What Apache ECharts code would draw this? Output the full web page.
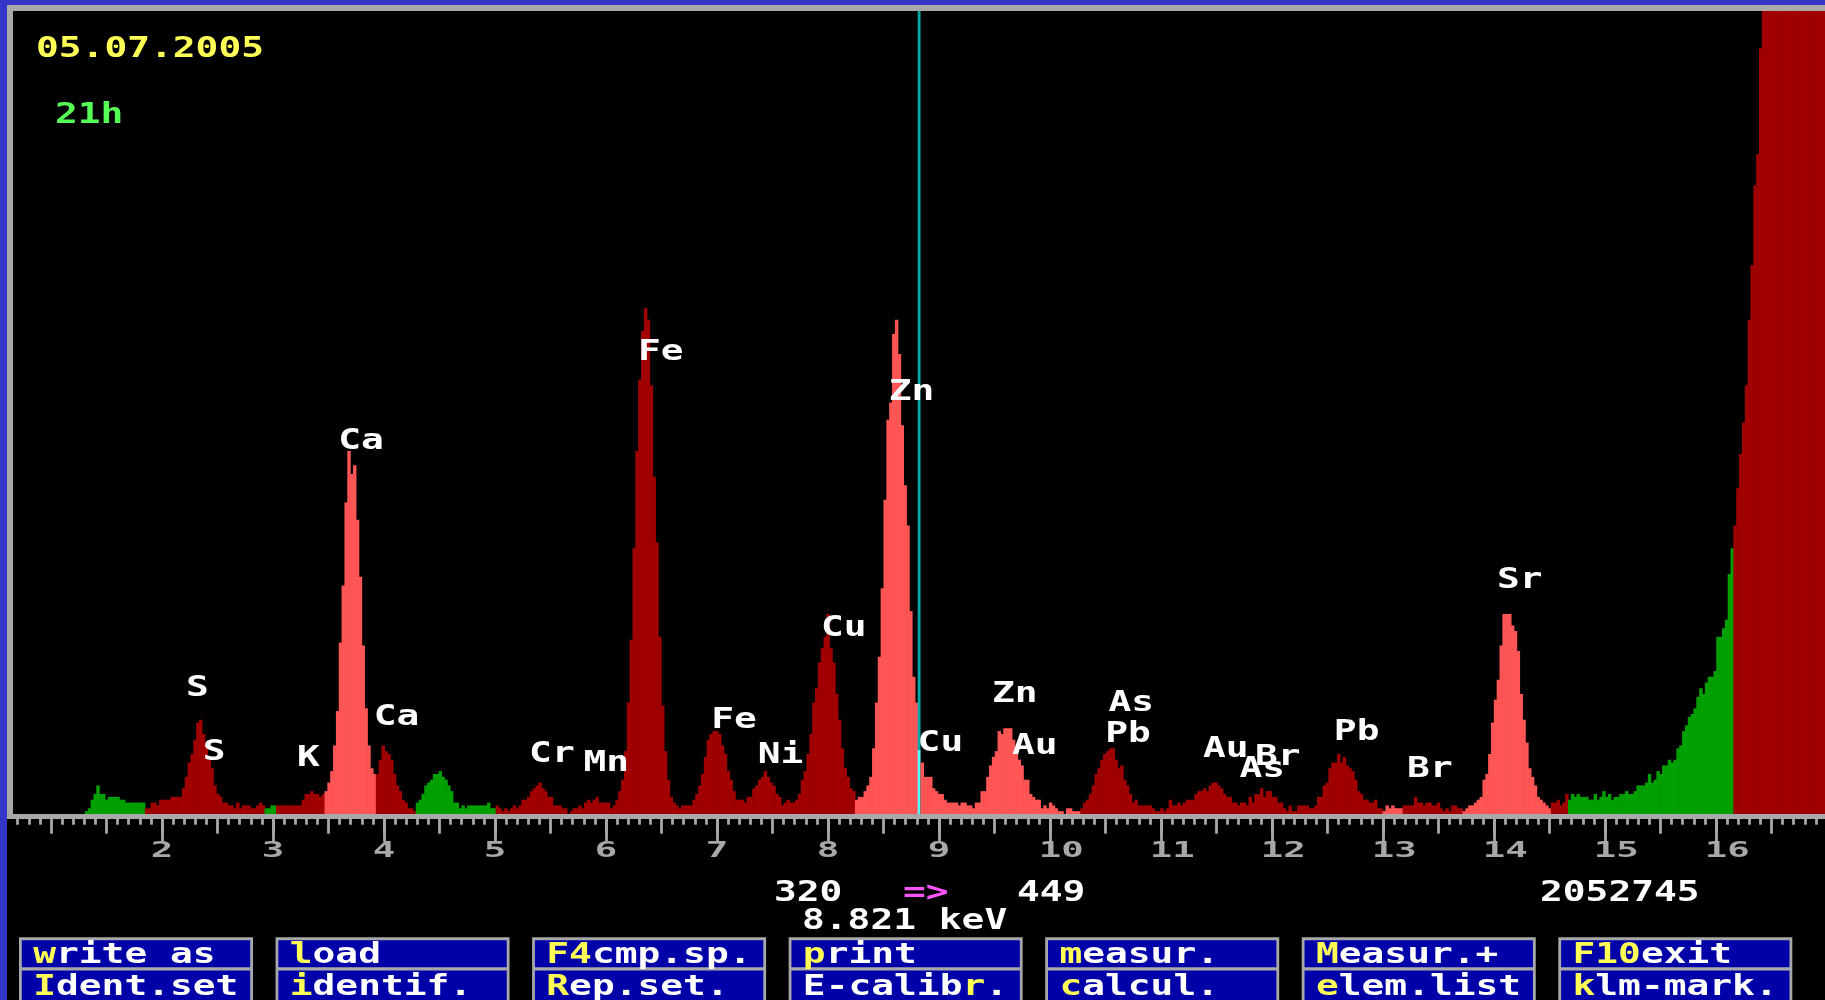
<!DOCTYPE html>
<html>
<head>
<meta charset="utf-8">
<title>XRF spectrum 05.07.2005</title>
<script src="https://cdn.jsdelivr.net/npm/echarts@6.0.0/dist/echarts.min.js"></script>
<style>
  html, body { margin: 0; padding: 0; background: #000; overflow: hidden; }
  #chart { width: 1825px; height: 1000px; }
</style>
</head>
<body>
<div id="chart"></div>
<script>
// Energy calibration: keV at the centre of a channel = CAL_OFFSET + CAL_GAIN * channel
const CAL_OFFSET = 0.5989;
const CAL_GAIN = 0.025694;

// Counts per channel, first value belongs to channel 3
const FIRST_CHANNEL = 3;
// ch 3 - 111 : low-energy background, S and K
const countsLow = [
  0,0,0,0,0,0,0,0,0,0, 0,0,0,0,0,0,0,0,0,0, 0,0,0,0,0,
  20,40,100,140,200,140,140,100,120,120,120,120,100,100,80,80,80,80,80,80,80,
  40,40,80,80,60,100,100,100,100,120, 120,120,120,180,260,360,420,520,640,660,
  560,480,380,320,200,140,120,80,80,60, 60,40,80,40,60,60,60,40,40,60, 80,60,
  40,40,60,60,
  60,60,60,60,60,60,60,60,60,100,140,140,160,140,140,120,140
];
// ch 112 - 171 : Ca K-alpha / K-beta
const countsCa = [
  160,220,300,480,720,1200,1600,2180,2540,2380,2440,2060,1660,1180,740,480,320,280,
  280,380,480,440,420,380,280,200,160,100,80,40,40,20,
  80,100,140,200,220,240,280,280,300,260,240,200,160,80,80,40,60,40,60,60,60,60,60,60,60,80,40,40
];
// ch 172 - 297 : Cr, Mn, Fe, Ni, Cu
const countsFe = [
  60,40,20,40,20,40,60,40,60,100,100,120,160,180,200,220,180,160,120,120,60,60,60,40,40,0,
  20,40,40,60,40,80,100,80,100,120,80,80,80,80,40,60,100,160,240,
  440,780,1220,1860,2540,3040,3380,3540,3460,3000,2360,1900,1240,760,440,240,120,80,60,40,
  60,60,60,60,100,140,200,280,400,520,560,580,580,560,480,420,300,240,160,100,100,100,80,
  120,120,180,200,240,260,300,260,220,200,140,120,60,80,100,80,80,100,140,
  240,300,420,560,780,880,1060,1160,1240,1400,1160,1060,840,660,460,320,260,180,160
];
// ch 298 - 376 : Zn K-alpha, Cu K-beta, Zn K-beta, Au L-alpha
const countsZn = [
  100,120,120,160,200,260,460,780,1100,1580,2200,2760,2880,3360,3460,3220,2720,2300,2020,1420,960,780,
  449,
  360,260,260,260,180,160,140,140,100,80,80,80,80,60,
  80,80,60,60,40,80,80,160,160,260,340,400,440,580,560,600,600,600,520,460,
  380,340,240,240,140,120,100,100,40,60,40,80,60,40,20,20,0,40,40,20,20,20
];
// ch 377 - 510 : As / Pb L-alpha, Au L-beta, As K-beta, Br, Pb L-beta
const countsAsPb = [
  40,80,100,140,200,280,320,380,420,440,460,460,380,320,340,240,200,140,80,100,60,60,60,60,60,40,20,20,40,20,40,
  100,60,60,80,60,80,100,100,100,140,160,160,180,160,200,220,220,200,180,140,
  120,120,80,80,60,80,80,60,120,80,140,140,180,120,160,160,120,120,80,80,
  40,20,60,20,20,60,60,60,60,40,40,60,120,120,200,220,320,360,360,420,360,400,340,320,300,240,160,140,100,100,80,80,100,40,40,
  20,60,40,60,40,40,40,
  60,60,60,60,120,80,80,60,80,80,60,60,80,40,20,40,20,60,60,40,40
];
// ch 511 - 637 : Sr K-alpha, scatter background and the off-scale scatter peak
const countsSr = [
  20,40,60,60,80,100,120,240,280,420,640,800,940,1180,1400,1400,1400,1320,1280,1140,840,660,500,320,260,200,120,100,80,60,40,
  80,80,100,60,80,140,
  100,140,120,140,120,120,120,100,100,140, 100,120,160,120,140,100,120,120,140,140,
  160,140,140,160,200,200,200,220,280,220, 240,300,280,340,340,380,360,380,460,480,
  580,620,680,700,740,820,880,840,920,960, 960,1000,1240,1240,1300,1360,1680,1860,
  2020,2280,2520,2740,3000,3460,3840,4400,4620,5360,
  5900,6300,6900,7400,8100,8700,9400,10200,11000,11800,12700,13600,14500,15500,16500,17600,18700,19800,21000,22200,23500,24800
];

// Regions of interest, as channel ranges
const identifiedRois = [[112, 129], [298, 376], [483, 489], [511, 541]];
const unassignedRois = [[28, 48], [91, 94], [144, 171], [548, 605]];

// Element markers: name, keV of the first letter, height (counts) of the letter tops
const markerNames = ['S','S','K','Ca','Ca','Cr','Mn','Fe','Fe','Ni','Cu','Zn','Cu','Zn','Au','As','Pb','Au','As','Br','Pb','Br','Sr'];
const markerKeV = [2.32,2.47,3.32,3.69,4.01,5.41,5.90,6.39,7.05,7.47,8.04,8.65,8.91,9.58,9.76,10.63,10.60,11.48,11.81,11.95,12.66,13.32,14.13];
const markerHeight = [952,504,462,2681,749,490,427,3304,728,483,1372,3024,567,910,546,847,630,525,385,469,644,385,1708];

// Energy axis labels (keV)
const axisTickLabels = [2,3,4,5,6,7,8,9,10,11,12,13,14,15,16];

// Cursor and totals
const cursorChannel = 320;
const totalCounts = 2052745;
const measureDate = '05.07.2005';
const measureTime = '21h';

// Function keys: label, start and length of the highlighted hot-key part
const keysTop = [['write as',0,1],['load',0,1],['F4cmp.sp.',0,2],['print',0,1],['measur.',0,1],['Measur.+',0,1],['F10exit',0,3]];
const keysBottom = [['Ident.set',0,1],['identif.',0,1],['Rep.set.',0,1],['E-calibr.',7,1],['calcul.',0,1],['elem.list',0,1],['klm-mark.',0,1]];

// ---------------------------------------------------------------------------
const Y_MAX = 5620;
const COLORS = {
  frameBlue: '#3535c8', frameGray: '#a8a8a8',
  plain: '#a00000', identified: '#ff5555', unassigned: '#00a000',
  cursorLine: '#00a8a8', cursorBar: '#55ffff',
  white: '#ffffff', yellow: '#ffff55', lightGreen: '#55ff55', magenta: '#ff55ff',
  keyBlue: '#0000a8'
};
const ROI_FILL = [COLORS.plain, COLORS.identified, COLORS.unassigned];

const FONT_FAMILY = '"DejaVu Sans Mono", "Liberation Mono", monospace';
const MAIN_FS = 27.5;
const MAIN_SX = 1.377;
const PITCH = 0.6021 * MAIN_FS * MAIN_SX;
const MAIN_FONT = 'bold ' + MAIN_FS + 'px ' + FONT_FAMILY;
const CAP_DROP = 0.117 * MAIN_FS;
const TICK_FS = 22;
const TICK_SX = 1.70;
const TICK_PITCH = 0.6021 * TICK_FS * TICK_SX;

function inRanges(ch, ranges) {
  return ranges.some(r => ch >= r[0] && ch <= r[1]);
}
function roiClass(ch) {
  if (inRanges(ch, identifiedRois)) return 1;
  if (inRanges(ch, unassignedRois)) return 2;
  return 0;
}
const allCounts = [].concat(countsLow, countsCa, countsFe, countsZn, countsAsPb, countsSr);
const spectrumData = allCounts.map((c, i) => {
  const ch = FIRST_CHANNEL + i;
  return [CAL_OFFSET + CAL_GAIN * ch, c, roiClass(ch), ch];
});
const cursorCounts = allCounts[cursorChannel - FIRST_CHANNEL];
const cursorKeV = CAL_OFFSET + CAL_GAIN * cursorChannel;

function renderChannel(params, api) {
  const ch = api.value(3);
  const c = api.value(1);
  const base = api.coord([CAL_OFFSET + CAL_GAIN * (ch - 0.5), 0]);
  const xr = api.coord([CAL_OFFSET + CAL_GAIN * (ch + 0.5), 0])[0];
  const yTop = api.coord([0, Math.min(c, Y_MAX)])[1];
  const w = xr - base[0];
  const kids = [];
  if (ch === cursorChannel) {
    const yPlotTop = api.coord([0, Y_MAX])[1];
    kids.push({ type: 'rect', shape: { x: base[0], y: yPlotTop, width: w, height: yTop - yPlotTop }, style: { fill: COLORS.cursorLine } });
    kids.push({ type: 'rect', shape: { x: base[0], y: yTop, width: w, height: base[1] - yTop }, style: { fill: COLORS.cursorBar } });
  } else if (c > 0) {
    kids.push({ type: 'rect', shape: { x: base[0], y: yTop, width: w + 0.6, height: base[1] - yTop }, style: { fill: ROI_FILL[api.value(2)] } });
  }
  return { type: 'group', children: kids };
}

function textStyle(str, fill, font) {
  return { text: str, fill: fill, font: font, align: 'left', verticalAlign: 'top', textAlign: 'left', textVerticalAlign: 'top' };
}

function renderMarker(params, api) {
  const p = api.coord([api.value(0), api.value(1)]);
  return {
    type: 'text', x: p[0] - PITCH / 2, y: p[1] - CAP_DROP, scaleX: MAIN_SX,
    style: textStyle(markerNames[params.dataIndex], COLORS.white, MAIN_FONT)
  };
}

function renderTickLabel(params, api) {
  const p = api.coord([api.value(0), 0]);
  return {
    type: 'text', x: p[0] - TICK_PITCH / 2, y: p[1] + 28.7 - 0.117 * TICK_FS, scaleX: TICK_SX,
    style: textStyle(String(api.value(0)), COLORS.frameGray, 'bold ' + TICK_FS + 'px ' + FONT_FAMILY)
  };
}

// screen text placed by the left edge of its ink and the top of its capitals
function screenText(str, inkLeft, capTop, fill) {
  return { type: 'text', x: inkLeft - 2, y: capTop - CAP_DROP, scaleX: MAIN_SX, z: 20, silent: true,
           style: textStyle(str, fill, MAIN_FONT) };
}

function keyElements() {
  const els = [];
  const rows = [[keysTop, 937.3, 945.5], [keysBottom, 969, 977]];
  for (let i = 0; i < 7; i++) {
    const bx = 19 + i * 256.55;
    els.push({ type: 'rect', z: 15, shape: { x: bx, y: 937.3, width: 234, height: 70 }, style: { fill: COLORS.frameGray } });
    els.push({ type: 'rect', z: 16, shape: { x: bx + 2.8, y: 940.2, width: 228.4, height: 27.1 }, style: { fill: COLORS.keyBlue } });
    els.push({ type: 'rect', z: 16, shape: { x: bx + 2.8, y: 970.6, width: 228.4, height: 40 }, style: { fill: COLORS.keyBlue } });
    rows.forEach(([keys, , capTop]) => {
      const [label, hs, hl] = keys[i];
      const parts = [
        [label.slice(0, hs), 0, COLORS.white],
        [label.slice(hs, hs + hl), hs, COLORS.yellow],
        [label.slice(hs + hl), hs + hl, COLORS.white]
      ];
      parts.forEach(([s, idx, col]) => {
        if (s) els.push(screenText(s, bx + 16.2 + idx * PITCH, capTop, col));
      });
    });
  }
  return els;
}

const frame = [
  { type: 'rect', z: 50, shape: { x: 0, y: 0, width: 1825, height: 5 }, style: { fill: COLORS.frameBlue } },
  { type: 'rect', z: 50, shape: { x: 0, y: 0, width: 7, height: 1000 }, style: { fill: COLORS.frameBlue } },
  { type: 'rect', z: 49, shape: { x: 7, y: 5, width: 1818, height: 6 }, style: { fill: COLORS.frameGray } },
  { type: 'rect', z: 49, shape: { x: 7, y: 5, width: 6, height: 814 }, style: { fill: COLORS.frameGray } },
  { type: 'rect', z: 49, shape: { x: 7, y: 819, width: 6, height: 40 }, style: { fill: '#000' } }
];

const statusText = [
  screenText(measureDate, 38, 39, COLORS.yellow),
  screenText(measureTime, 57, 105, COLORS.lightGreen),
  screenText(String(cursorChannel), 776, 882.7, COLORS.white),
  screenText('=>', 905, 882.7, COLORS.magenta),
  screenText(String(cursorCounts), 1019, 882.7, COLORS.white),
  screenText(String(totalCounts), 1542, 882.7, COLORS.white),
  screenText(cursorKeV.toFixed(3) + ' keV', 804, 910.7, COLORS.white)
];

const tickStyle = { color: COLORS.frameGray, width: 2.8 };
const chart = echarts.init(document.getElementById('chart'), null, { renderer: 'canvas' });
chart.setOption({
  backgroundColor: '#000',
  animation: false,
  grid: { left: -60, top: 11, width: 1887, height: 803, containLabel: false, outerBoundsMode: 'none' },
  xAxis: [
    {
      type: 'value', min: 0, max: 17, interval: 0.5, position: 'bottom', offset: 2.5,
      axisLine: { show: true, onZero: false, lineStyle: { color: COLORS.frameGray, width: 5 } },
      axisTick: { show: true, length: 17.2, lineStyle: tickStyle },
      minorTick: { show: true, splitNumber: 5, length: 8.2, lineStyle: tickStyle },
      axisLabel: { show: false }, splitLine: { show: false }, minorSplitLine: { show: false }
    },
    {
      type: 'value', min: 0, max: 17, interval: 1, position: 'bottom', offset: 2.5,
      axisLine: { show: false, onZero: false },
      axisTick: { show: true, length: 25.2, customValues: axisTickLabels, lineStyle: tickStyle },
      axisLabel: { show: false }, splitLine: { show: false }
    }
  ],
  yAxis: { type: 'value', min: 0, max: Y_MAX, show: false, splitLine: { show: false } },
  series: [
    { type: 'custom', name: 'spectrum', renderItem: renderChannel, data: spectrumData, clip: true, z: 2, silent: true },
    { type: 'custom', name: 'elements', renderItem: renderMarker,
      data: markerKeV.map((e, i) => [e, markerHeight[i]]), clip: false, z: 5, silent: true },
    { type: 'custom', name: 'energy labels', renderItem: renderTickLabel,
      data: axisTickLabels.map(v => [v, 0]), clip: false, z: 5, silent: true }
  ],
  graphic: { elements: frame.concat(statusText, keyElements()) }
});
</script>
</body>
</html>
